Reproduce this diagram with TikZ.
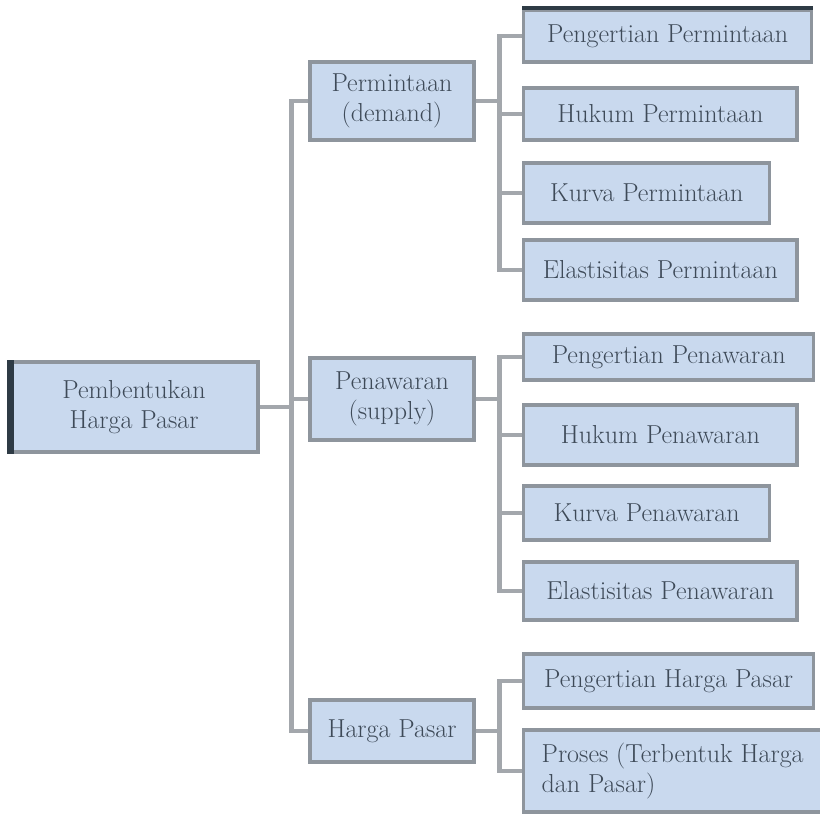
\documentclass[tikz,border=0pt]{standalone}
\usetikzlibrary{positioning}
\definecolor{BoxFill}{HTML}{C9D9EE}
\definecolor{BoxLine}{HTML}{8E959D}
\definecolor{LinkGray}{HTML}{A3A7AC}
\definecolor{EdgeDark}{HTML}{2E3B45}
\definecolor{TextGray}{HTML}{3E4A58}
\tikzset{
    % boxes
    topic/.style={
        rectangle,
        draw=BoxLine,
        fill=BoxFill,
        line width=2.5pt,
        align=center,
        inner sep=2pt,
        text=TextGray,
        font=\fontsize{19.5}{23}\selectfont
    },
    subtopic/.style={
        topic,
        minimum width=123pt
    },
    leaf/.style={
        topic,
        anchor=west
    },
    link/.style={
        draw=LinkGray,
        line width=3.5pt
    }
}
\begin{document}
\begin{tikzpicture}[x=0.75pt, y=-0.75pt]
        \useasboundingbox (0,0) rectangle (820,814);

        % root
        \node[topic, minimum width=186pt, minimum height=67.5pt] (root) at (134, 407) {Pembentukan\\Harga Pasar};
        \draw[EdgeDark, line width=5pt] (root.south west) ++(2,0) -- ([xshift=1.5pt]root.north west);

        % second level
        \node[subtopic, minimum height=58.5pt] (demand) at (392, 101) {Permintaan\\(demand)};
        \node[subtopic, minimum height=61.5pt] (supply) at (392, 399) {Penawaran\\(supply)};
        \node[subtopic, minimum height=46.5pt] (price) at (392, 731) {Harga Pasar};

        % leaves of demand
        \node[leaf, minimum width=216pt, minimum height=39pt] (d1) at (522, 36) {Pengertian Permintaan};
        \node[leaf, minimum width=205pt, minimum height=39pt] (d2) at (522, 114) {Hukum Permintaan};
        \node[leaf, minimum width=184.5pt, minimum height=45pt] (d3) at (522, 193) {Kurva Permintaan};
        \node[leaf, minimum width=205pt, minimum height=45pt] (d4) at (522, 270) {Elastisitas Permintaan};
        \draw[EdgeDark, line width=3pt] (d1.north west) -- (d1.north east);

        % leaves of supply
        \node[leaf, minimum width=217.5pt, minimum height=34.5pt] (s1) at (522, 357) {Pengertian Penawaran};
        \node[leaf, minimum width=205pt, minimum height=45pt] (s2) at (522, 435) {Hukum Penawaran};
        \node[leaf, minimum width=184.5pt, minimum height=40.5pt] (s3) at (522, 513) {Kurva Penawaran};
        \node[leaf, minimum width=205pt, minimum height=43.5pt] (s4) at (522, 591) {Elastisitas Penawaran};

        % leaves of market price
        \node[leaf, minimum width=217.5pt, minimum height=40.5pt] (p1) at (522, 681) {Pengertian Harga Pasar};
        \node[leaf, minimum width=223.5pt, minimum height=61.5pt, align=left] (p2) at (522, 771) {Proses (Terbentuk Harga\\dan Pasar)};

        % trunk
        \draw[link] (root.east) -- ++(32,0) |- (demand.west);
        \draw[link] (root.east) -- ++(32,0) |- (supply.west);
        \draw[link] (root.east) -- ++(32,0) |- (price.west);

        % branches
        \foreach \leafname in {d1,d2,d3,d4}
            \draw[link] (demand.east) -- ++(24,0) |- (\leafname.west);
        \foreach \leafname in {s1,s2,s3,s4}
            \draw[link] (supply.east) -- ++(24,0) |- (\leafname.west);
        \foreach \leafname in {p1,p2}
            \draw[link] (price.east) -- ++(24,0) |- (\leafname.west);
    \end{tikzpicture}
\end{document}
